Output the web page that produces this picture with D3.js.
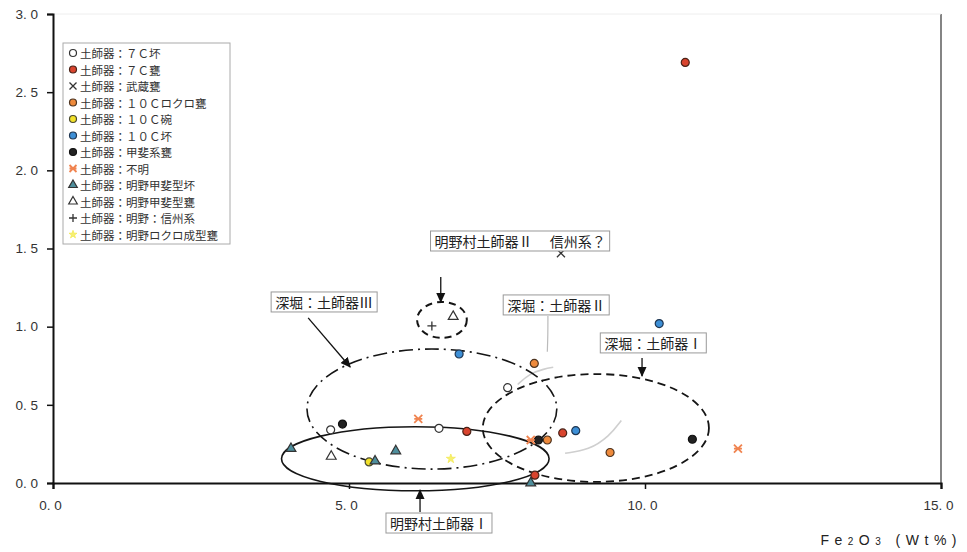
<!DOCTYPE html>
<html><head><meta charset="utf-8">
<script src="https://cdn.jsdelivr.net/npm/d3@7"></script>
<style>
html,body{margin:0;padding:0;background:#fff;}
svg{display:block;font-family:"Noto Sans CJK JP","Noto Sans",sans-serif;}
</style></head>
<body><svg id="c" width="967" height="552"></svg>
<script>
// ---- data ----
const categories = [
  "土師器：７Ｃ坏","土師器：７Ｃ甕","土師器：武蔵甕","土師器：１０Ｃロクロ甕",
  "土師器：１０Ｃ碗","土師器：１０Ｃ坏","土師器：甲斐系甕","土師器：不明",
  "土師器：明野甲斐型坏","土師器：明野甲斐型甕","土師器：明野：信州系","土師器：明野ロクロ成型甕"
];
const v7CKou     = [[4.69,0.34],[6.52,0.35],[7.68,0.61]];
const v7CKame    = [[10.68,2.69],[6.99,0.33],[8.61,0.32],[8.14,0.05]];
const vMusashi   = [[8.58,1.47]];
const v10CRokuro = [[8.13,0.765],[8.35,0.275],[9.41,0.195]];
const v10CWan    = [[5.34,0.135]];
const v10CKou    = [[6.86,0.825],[8.83,0.335],[10.24,1.02]];
const vKaiKame   = [[4.89,0.377],[8.20,0.275],[10.80,0.28]];
const vFumei     = [[6.17,0.41],[8.07,0.275],[11.57,0.22]];
const vAkenoKaiKou  = [[4.02,0.22],[5.79,0.205],[5.44,0.14],[8.07,0.0]];
const vAkenoKaiKame = [[4.70,0.17],[6.76,1.065]];
const vAkenoShinshu = [[6.40,1.005]];
const vAkenoRokuro  = [[6.72,0.155]];
const seriesValues = [v7CKou,v7CKame,vMusashi,v10CRokuro,v10CWan,v10CKou,vKaiKame,vFumei,vAkenoKaiKou,vAkenoKaiKame,vAkenoShinshu,vAkenoRokuro];
const xTicks = [0,5,10,15];
const yTicks = [0,0.5,1,1.5,2,2.5,3];
// group ellipses: center x, center y, radius x, radius y (data units)
const groupNames = ["明野村土師器Ⅰ","深堀：土師器Ⅲ","深堀：土師器Ⅰ","明野村土師器Ⅱ　 信州系？","深堀：土師器Ⅱ"];
const groupEllipses = [[6.12,0.155,2.26,0.205],[6.40,0.473,2.11,0.384],[9.17,0.352,1.91,0.345],[6.57,1.043,0.42,0.115]];
const labelCenters = [[6.52,-0.256],[4.58,1.158],[10.14,0.896],[7.89,1.548],[8.50,1.139]];
const arrowLines = [[[6.20,-0.186],[6.20,-0.045]],[[4.31,1.056],[5.02,0.742]],[[9.95,0.80],[9.95,0.685]],[[6.55,1.318],[6.55,1.158]]];

// ---- styles ----
const markerStyles = [
  {t:"circle",fill:"#fff",stroke:"#333"},
  {t:"circle",fill:"#d9442e",stroke:"#4a2318"},
  {t:"x",fill:"none",stroke:"#333"},
  {t:"circle",fill:"#ee8a3c",stroke:"#4d3420"},
  {t:"circle",fill:"#f2e12a",stroke:"#4a4a30"},
  {t:"circle",fill:"#3d8fd6",stroke:"#1f3550"},
  {t:"circle",fill:"#222",stroke:"#111"},
  {t:"ast",fill:"none",stroke:"#f08450"},
  {t:"tri",fill:"#4e8e9c",stroke:"#333"},
  {t:"tri",fill:"#fff",stroke:"#333"},
  {t:"plus",fill:"none",stroke:"#333"},
  {t:"star",fill:"#f7f070",stroke:"#f3ea55"}
];

const svg = d3.select("#c");
const x = d3.scaleLinear().domain([0,15]).range([53,941]);
const y = d3.scaleLinear().domain([0,3]).range([483,14]);

const defs = svg.append("defs");
defs.append("marker").attr("id","ah").attr("viewBox","0 0 10 10").attr("refX",9).attr("refY",5)
  .attr("markerWidth",8).attr("markerHeight",8).attr("orient","auto")
  .append("path").attr("d","M0,0.5L10,5L0,9.5z").attr("fill","#111");

// frame
svg.append("line").attr("x1",x(15)).attr("x2",x(15)).attr("y1",y(3)).attr("y2",y(0)).attr("stroke","#333").attr("stroke-width",1.2);
svg.append("line").attr("x1",x(0)).attr("x2",x(15)).attr("y1",y(3)).attr("y2",y(3)).attr("stroke","#eee").attr("stroke-width",1);

// axes
const xAxis = svg.append("g").attr("transform",`translate(0,${y(0)})`)
  .call(d3.axisBottom(x).tickValues(xTicks).tickSize(6).tickFormat(d=>d3.format(".1f")(d).replace(".",". ")));
xAxis.select(".domain").attr("stroke","#111").attr("stroke-width",2.2);
xAxis.selectAll(".tick line").attr("stroke","#111").attr("stroke-width",1.5);
xAxis.selectAll(".tick text").attr("font-size",13.5).attr("fill","#333").attr("dy","1.3em").attr("dx",-3)
  .attr("font-family","'Liberation Sans Narrow','Liberation Sans',sans-serif");

const yAxis = svg.append("g").attr("transform",`translate(${x(0)},0)`)
  .call(d3.axisLeft(y).tickValues(yTicks).tickSize(6).tickFormat(d=>d3.format(".1f")(d).replace(".",". ")));
yAxis.select(".domain").attr("stroke","#111").attr("stroke-width",2);
yAxis.selectAll(".tick line").attr("stroke","#111").attr("stroke-width",1.5);
yAxis.selectAll(".tick text").attr("font-size",13.5).attr("fill","#333").attr("x",-15)
  .attr("font-family","'Liberation Sans Narrow','Liberation Sans',sans-serif");

// axis title
const tt = svg.append("text").attr("x",962).attr("y",545).attr("text-anchor","end")
  .attr("font-size",14).attr("fill","#222").attr("letter-spacing",5.5)
  .attr("font-family","'Liberation Sans',sans-serif");
tt.append("tspan").text("Fe");
tt.append("tspan").attr("font-size",10).text("2");
tt.append("tspan").text("O");
tt.append("tspan").attr("font-size",10).text("3");
tt.append("tspan").text(" (Wt%)");

// faint gray arcs (faded 深堀：土師器Ⅱ outline)
const lineGen = d3.line().x(d=>x(d[0])).y(d=>y(d[1])).curve(d3.curveBasis);
const fadedArcs = [
  [[7.85,0.63],[8.05,0.70],[8.30,0.73],[8.45,0.74]],
  [[8.65,0.19],[9.05,0.21],[9.40,0.30],[9.60,0.40]]
];
svg.append("g").selectAll("path").data(fadedArcs).join("path")
  .attr("d",lineGen).attr("fill","none").attr("stroke","#cfcfcf").attr("stroke-width",1.6);
svg.append("path").attr("d",lineGen([[8.36,1.068],[8.36,0.95],[8.35,0.84]]))
  .attr("fill","none").attr("stroke","#bbb").attr("stroke-width",1.2);

// ellipses
const dashes = [null,"14,5,2,5","8,5","7,5"];
const widths = [1.6,1.6,1.8,2];
svg.append("g").selectAll("ellipse").data(groupEllipses).join("ellipse")
  .attr("cx",d=>x(d[0])).attr("cy",d=>y(d[1]))
  .attr("rx",d=>x(d[0]+d[2])-x(d[0])).attr("ry",d=>y(d[1])-y(d[1]+d[3]))
  .attr("fill","none").attr("stroke","#151515")
  .attr("stroke-width",(d,i)=>widths[i])
  .attr("stroke-dasharray",(d,i)=>dashes[i]);

// arrows
svg.append("g").selectAll("line").data(arrowLines).join("line")
  .attr("x1",d=>x(d[0][0])).attr("y1",d=>y(d[0][1]))
  .attr("x2",d=>x(d[1][0])).attr("y2",d=>y(d[1][1]))
  .attr("stroke","#111").attr("stroke-width",1.3).attr("marker-end","url(#ah)");

// marker drawing
function drawMarker(g, st, r){
  if(st.t==="circle"){
    g.append("circle").attr("r",r).attr("fill",st.fill).attr("stroke",st.stroke).attr("stroke-width",1.2);
  } else if(st.t==="x"){
    const s=r;
    g.append("path").attr("d",`M${-s},${-s}L${s},${s}M${-s},${s}L${s},${-s}`).attr("stroke",st.stroke).attr("stroke-width",1.3);
  } else if(st.t==="plus"){
    const s=r+0.5;
    g.append("path").attr("d",`M${-s},0L${s},0M0,${-s}L0,${s}`).attr("stroke",st.stroke).attr("stroke-width",1.3);
  } else if(st.t==="ast"){
    const s=r;
    g.append("path").attr("d",`M${-s},${-s}L${s},${s}M${-s},${s}L${s},${-s}M${-s},0L${s},0`).attr("stroke",st.stroke).attr("stroke-width",1.8);
  } else if(st.t==="tri"){
    g.append("path").attr("d",d3.symbol(d3.symbolTriangle,r*r*2.6)()).attr("fill",st.fill).attr("stroke",st.stroke).attr("stroke-width",1.2);
  } else if(st.t==="star"){
    g.append("path").attr("d",d3.symbol(d3.symbolStar,r*r*1.6)()).attr("fill",st.fill).attr("stroke",st.stroke).attr("stroke-width",0.8);
  }
}

// points
seriesValues.forEach((vals,i)=>{
  const st = markerStyles[i];
  vals.forEach(v=>{
    const g = svg.append("g").attr("transform",`translate(${x(v[0])},${y(v[1])})`);
    drawMarker(g, st, 4);
  });
});

// label boxes
labelCenters.forEach((c,i)=>{
  const g = svg.append("g");
  const t = g.append("text").attr("x",x(c[0])).attr("y",y(c[1])).attr("text-anchor","middle")
    .attr("dominant-baseline","central").attr("font-size",14).attr("fill","#222").style("white-space","pre")
    .text(groupNames[i]);
  const bb = t.node().getBBox();
  g.insert("rect","text").attr("x",bb.x-4).attr("y",y(c[1])-10).attr("width",bb.width+8).attr("height",20)
    .attr("fill","#fff").attr("stroke","#999").attr("stroke-width",1);
});

// legend
const lg = svg.append("g");
lg.append("rect").attr("x",63).attr("y",43).attr("width",167).attr("height",201)
  .attr("fill","#fff").attr("stroke","#aaa").attr("stroke-width",1);
categories.forEach((name,i)=>{
  const yy = 53 + i*16.5;
  const g = lg.append("g").attr("transform",`translate(73,${yy})`);
  drawMarker(g, markerStyles[i], 3.5);
  lg.append("text").attr("x",80).attr("y",yy).attr("dominant-baseline","central")
    .attr("font-size",11.5).attr("fill","#333").text(name);
});
</script></body></html>
